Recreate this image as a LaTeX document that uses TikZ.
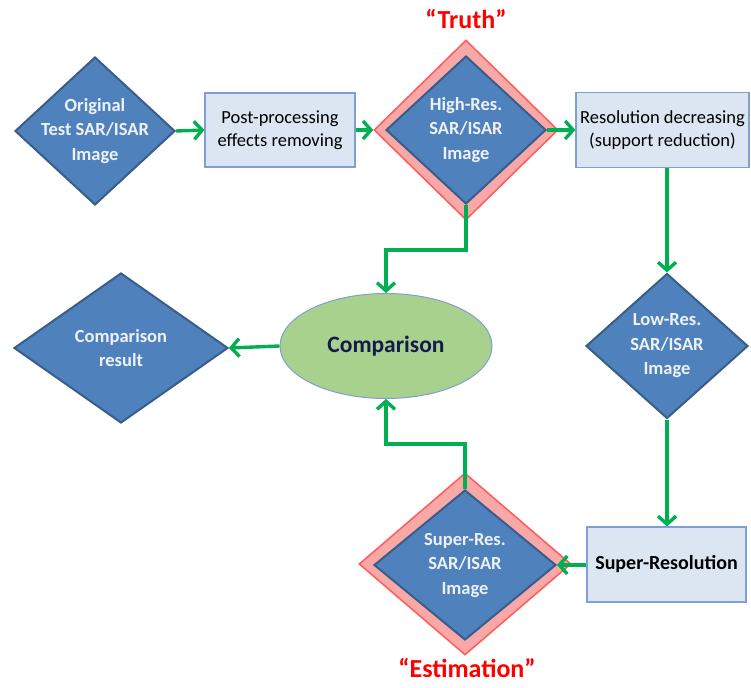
\documentclass[tikz,border=0pt]{standalone}
\usepackage{fontspec}
\setmainfont{Carlito}
\usetikzlibrary{shapes.geometric,arrows.meta}
\definecolor{diafill}{HTML}{4F81BD}
\definecolor{diadraw}{HTML}{385D8A}
\definecolor{boxfill}{HTML}{DCE6F2}
\definecolor{boxdraw}{HTML}{7E9FD0}
\definecolor{arrgreen}{HTML}{00B050}
\definecolor{ellfill}{HTML}{A9D18E}
\definecolor{elltext}{HTML}{141A4C}
\definecolor{pinkfill}{HTML}{F9A8A8}
\definecolor{pinkdraw}{HTML}{FF5B5B}
\definecolor{diatext}{HTML}{EEF2F8}
\tikzset{
  dia/.style={diamond, fill=diafill, draw=diadraw, line width=2pt, inner sep=0pt, aspect=1},
  pinkdia/.style={diamond, fill=pinkfill, draw=pinkdraw, line width=1.5pt, inner sep=0pt, aspect=1},
  dtext/.style={align=center, text=diatext, font=\fontsize{18.5}{24.5}\selectfont\bfseries},
  boxnode/.style={rectangle, fill=boxfill, draw=boxdraw, line width=1.2pt, align=center, font=\fontsize{18.5}{23}\selectfont, inner sep=0pt},
  arr/.style={draw=arrgreen, line width=3.4pt, -{Straight Barb[length=8pt,width=18pt,line width=3.4pt]}},
  lbl/.style={text=red, font=\fontsize{26}{30}\selectfont\bfseries}
}
\begin{document}
\begin{tikzpicture}[x=1pt,y=-1pt]
\useasboundingbox (0,0) rectangle (751,687);
% Original
\node[dia, minimum width=160pt, minimum height=148pt] (orig) at (95,131) {};
\node[dtext] (origt) at (orig.center) {Original\\Test SAR/ISAR\\Image};
% Post-processing
\node[boxnode, minimum width=150pt, minimum height=74pt] (post) at (280,130) {Post-processing\\effects removing};
% High-res
\node[pinkdia, minimum width=184pt, minimum height=180pt] (hio) at (466,130) {};
\node[dia, minimum width=160pt, minimum height=148pt] (hi) at (466,130) {};
\node[dtext] (hit) at (hi.center) {High-Res.\\SAR/ISAR\\Image};
\node[lbl] (truth) at (466,19) {“Truth”};
% Resolution decreasing
\node[boxnode, minimum width=173pt, minimum height=75pt] (resd) at (662.5,130) {Resolution decreasing\\(support reduction)};
% Low-res
\node[dia, minimum width=162pt, minimum height=145pt] (low) at (667,346) {};
\node[dtext] (lowt) at (low.center) {Low-Res.\\SAR/ISAR\\Image};
% Super-resolution box
\node[boxnode, minimum width=159pt, minimum height=75pt, font=\fontsize{20}{23}\selectfont\bfseries] (srb) at (666.5,564.5) {Super-Resolution};
% Super-res diamond
\node[pinkdia, minimum width=212pt, minimum height=182pt] (suo) at (465,564) {};
\node[dia, minimum width=182pt, minimum height=150pt] (su) at (465,565) {};
\node[dtext] (sut) at (su.center) {Super-Res.\\SAR/ISAR\\Image};
\node[lbl] (est) at (467,668) {“Estimation”};
% Comparison ellipse
\node[ellipse, fill=ellfill, draw=boxdraw, line width=1pt, minimum width=212pt, minimum height=105pt, inner sep=0pt, text=elltext, font=\fontsize{23.5}{26}\selectfont\bfseries] (cmp) at (386,346) {Comparison};
% Comparison result
\node[dia, minimum width=214pt, minimum height=150pt] (res) at (121,348) {};
\node[dtext] (rest) at (res.center) {Comparison\\result};
% Arrows
\draw[arr] (orig.east) -- (post.west);
\draw[arr] (post.east) -- (hio.west);
\draw[arr] (hi.east) -- (resd.west);
\draw[arr] (resd.south -| low.north) -- (low.north);
\draw[arr] (low.south) -- (srb.north -| low.south);
\draw[arr] (srb.west |- su.east) -- (su.east);
\draw[arr] (hi.south) -- (hi.south |- 0,250) -| (cmp.north);
\draw[arr] (su.north) -- (su.north |- 0,444) -| (cmp.south);
\draw[arr] (cmp.west) -- (res.east);
\end{tikzpicture}
\end{document}
